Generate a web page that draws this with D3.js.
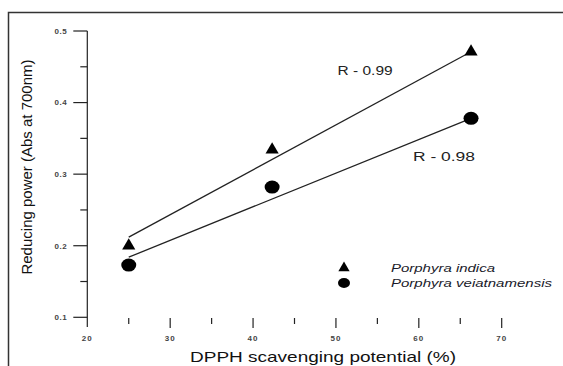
<!DOCTYPE html>
<html>
<head>
<meta charset="utf-8">
<script src="https://cdn.jsdelivr.net/npm/d3@7"></script>
<style>
  body { margin: 0; background: #fff; }
  svg { display: block; font-family: "Liberation Sans", Arial, sans-serif; }
</style>
</head>
<body>
<div id="chart"></div>
<script>
// data
const xTicks = [20, 30, 40, 50, 60, 70];
const yTicks = [0.1, 0.2, 0.3, 0.4, 0.5];
const indicaX = [25, 42.3, 66.3];
const indicaY = [0.200, 0.334, 0.471];
const vietX = [25, 42.3, 66.3];
const vietY = [0.173, 0.282, 0.378];
// drawn fit lines (end points as in the figure)
const indicaFitX = [25, 66.3];
const indicaFitY = [0.212, 0.471];
const vietFitX = [25, 66.3];
const vietFitY = [0.184, 0.378];
const rLabels = ["R - 0.99", "R - 0.98"];
const legendNames = ["Porphyra indica", "Porphyra veiatnamensis"];

const width = 563, height = 366;

const svg = d3.select("#chart").append("svg")
    .attr("width", width)
    .attr("height", height);

// frame (top + left border of the page crop)
svg.append("path")
    .attr("d", "M8.5," + height + " V12.5 H" + width)
    .attr("fill", "none")
    .attr("stroke", "#333")
    .attr("stroke-width", 1.5);

const x = d3.scaleLinear().domain([20, 70]).range([87.3, 501.7]);
const y = d3.scaleLinear().domain([0.1, 0.5]).range([317.3, 31]);

// y axis
const yAxis = svg.append("g").attr("class", "axis y");
yAxis.append("line")
    .attr("x1", x(20)).attr("x2", x(20))
    .attr("y1", y(0.5)).attr("y2", 327)
    .attr("stroke", "#222").attr("stroke-width", 1.2);
const yMinor = d3.range(0.15, 0.5, 0.1);
yAxis.selectAll("line.major").data(yTicks).enter().append("line")
    .attr("class", "major")
    .attr("x1", x(20) - 14).attr("x2", x(20))
    .attr("y1", d => y(d)).attr("y2", d => y(d))
    .attr("stroke", "#222").attr("stroke-width", 1.2);
yAxis.selectAll("line.minor").data(yMinor).enter().append("line")
    .attr("class", "minor")
    .attr("x1", x(20) - 7).attr("x2", x(20))
    .attr("y1", d => y(d)).attr("y2", d => y(d))
    .attr("stroke", "#222").attr("stroke-width", 1.2);
yAxis.selectAll("text").data(yTicks).enter().append("text")
    .attr("x", x(20) - 20)
    .attr("y", d => y(d))
    .attr("dy", "0.35em")
    .attr("text-anchor", "end")
    .attr("font-size", 8)
    .attr("font-weight", "bold")
    .attr("letter-spacing", 0.6)
    .attr("fill", "#444")
    .text(d => d.toFixed(1));

// x axis (ticks only, no baseline)
const xAxis = svg.append("g").attr("class", "axis x");
const xMinor = d3.range(25, 70, 10);
xAxis.selectAll("line.major").data(xTicks.slice(1)).enter().append("line")
    .attr("class", "major")
    .attr("x1", d => x(d)).attr("x2", d => x(d))
    .attr("y1", 318).attr("y2", 328)
    .attr("stroke", "#222").attr("stroke-width", 1.2);
xAxis.selectAll("line.minor").data(xMinor).enter().append("line")
    .attr("class", "minor")
    .attr("x1", d => x(d)).attr("x2", d => x(d))
    .attr("y1", 318).attr("y2", 324)
    .attr("stroke", "#222").attr("stroke-width", 1.2);
xAxis.selectAll("text").data(xTicks).enter().append("text")
    .attr("x", d => x(d))
    .attr("y", 341)
    .attr("text-anchor", "middle")
    .attr("font-size", 8)
    .attr("font-weight", "bold")
    .attr("letter-spacing", 1)
    .attr("fill", "#444")
    .text(d => d);

// axis titles
svg.append("text")
    .attr("x", 190).attr("y", 362)
    .attr("textLength", 266)
    .attr("lengthAdjust", "spacingAndGlyphs")
    .attr("font-size", 15)
    .attr("fill", "#111")
    .text("DPPH scavenging potential (%)");
svg.append("text")
    .attr("transform", "translate(32,167) rotate(-90)")
    .attr("text-anchor", "middle")
    .attr("font-size", 15)
    .attr("fill", "#111")
    .text("Reducing power (Abs at 700nm)");

// fit lines
const line = d3.line().x(d => x(d[0])).y(d => y(d[1]));
svg.append("path")
    .datum(d3.zip(indicaFitX, indicaFitY))
    .attr("d", line)
    .attr("fill", "none").attr("stroke", "#222").attr("stroke-width", 1.3);
svg.append("path")
    .datum(d3.zip(vietFitX, vietFitY))
    .attr("d", line)
    .attr("fill", "none").attr("stroke", "#222").attr("stroke-width", 1.3);

// markers
const tri = d3.symbol().type(d3.symbolTriangle).size(75);
svg.selectAll("path.tri").data(d3.zip(indicaX, indicaY)).enter().append("path")
    .attr("class", "tri")
    .attr("d", tri)
    .attr("transform", d => "translate(" + x(d[0]) + "," + y(d[1]) + ")")
    .attr("fill", "#000");
svg.selectAll("ellipse.dot").data(d3.zip(vietX, vietY)).enter().append("ellipse")
    .attr("class", "dot")
    .attr("cx", d => x(d[0])).attr("cy", d => y(d[1]))
    .attr("rx", 7.5).attr("ry", 6.5)
    .attr("fill", "#000");

// R labels
svg.append("text")
    .attr("x", x(50.2)).attr("y", y(0.444))
    .attr("dy", "0.35em")
    .attr("textLength", 55)
    .attr("lengthAdjust", "spacingAndGlyphs")
    .attr("font-size", 12.5).attr("fill", "#222")
    .text(rLabels[0]);
svg.append("text")
    .attr("x", x(59.3)).attr("y", y(0.325))
    .attr("dy", "0.35em")
    .attr("textLength", 62)
    .attr("lengthAdjust", "spacingAndGlyphs")
    .attr("font-size", 12.5).attr("fill", "#222")
    .text(rLabels[1]);

// legend
const legend = svg.append("g").attr("transform", "translate(344,268)");
legend.append("path")
    .attr("d", d3.symbol().type(d3.symbolTriangle).size(55))
    .attr("fill", "#000");
legend.append("ellipse")
    .attr("cx", 0).attr("cy", 15)
    .attr("rx", 6).attr("ry", 5)
    .attr("fill", "#000");
const legendLen = [104, 161];
legend.selectAll("text").data(legendNames).enter().append("text")
    .attr("x", 47)
    .attr("y", (d, i) => i * 15)
    .attr("dy", "0.35em")
    .attr("textLength", (d, i) => legendLen[i])
    .attr("lengthAdjust", "spacingAndGlyphs")
    .attr("font-size", 11.5)
    .attr("font-style", "italic")
    .attr("fill", "#1a1a2a")
    .text(d => d);
</script>
</body>
</html>
